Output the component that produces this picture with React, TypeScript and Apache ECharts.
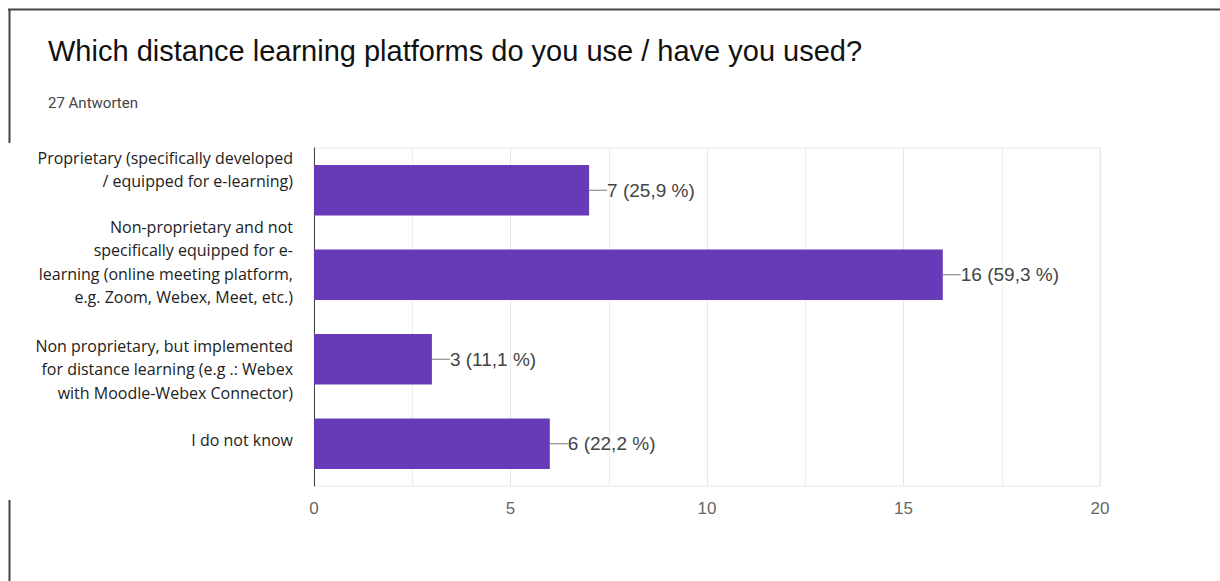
import React, { useEffect, useRef } from "react";
import * as echarts from "echarts";

const TITLE = "Which distance learning platforms do you use / have you used?";
const SUBTITLE = "27 Antworten";
const categories = [
  "Proprietary (specifically developed\n/ equipped for e-learning)",
  "Non-proprietary and not\nspecifically equipped for e-\nlearning (online meeting platform,\ne.g. Zoom, Webex, Meet, etc.)",
  "Non proprietary, but implemented\nfor distance learning (e.g .: Webex\nwith Moodle-Webex Connector)",
  "I do not know",
];
const counts = [7, 16, 3, 6];
const percents = ["25,9 %", "59,3 %", "11,1 %", "22,2 %"];
const xTicks = [0, 5, 10, 15, 20];

// vertical nudge of each category label (layout only)
const labelShift = [-21, -13, 10, -4];

export default function App() {
  const ref = useRef<HTMLDivElement>(null);
  useEffect(() => {
    if (!ref.current) return;
    const chart = echarts.init(ref.current, null, { renderer: "svg" });
    const rich: Record<string, any> = {};
    labelShift.forEach((s, i) => {
      const h = Math.max(1, 2 * Math.abs(s));
      rich["sp" + i] = { height: h, lineHeight: h, width: 1 };
    });
    chart.setOption({
      animation: false,
      backgroundColor: "#ffffff",
      title: [
        {
          text: TITLE,
          left: 43,
          top: 31,
          textStyle: { fontFamily: "Liberation Sans, Arial", fontSize: 29, fontWeight: "normal", color: "#111" },
        },
        {
          text: SUBTITLE,
          left: 43,
          top: 90,
          textStyle: { fontFamily: "Roboto, Liberation Sans", fontSize: 15, fontWeight: "normal", color: "#444" },
        },
      ],
      graphic: [
        { type: "line", shape: { x1: 8, y1: 9.5, x2: 1220, y2: 9.5 }, style: { stroke: "#444", lineWidth: 2 } },
        { type: "line", shape: { x1: 9.5, y1: 9, x2: 9.5, y2: 143 }, style: { stroke: "#444", lineWidth: 2 } },
        { type: "line", shape: { x1: 9.5, y1: 500, x2: 9.5, y2: 581 }, style: { stroke: "#444", lineWidth: 2 } },
      ],
      grid: {
        left: 314,
        right: 120,
        top: 148,
        bottom: 95,
        show: true,
        borderColor: "#e6e6e6",
        borderWidth: 1,
      },
      xAxis: {
        type: "value",
        min: xTicks[0],
        max: xTicks[xTicks.length - 1],
        interval: 5,
        axisLine: { show: false },
        axisTick: { show: false },
        splitLine: { show: true, lineStyle: { color: "#e6e6e6" } },
        minorTick: { show: false, splitNumber: 2 },
        minorSplitLine: { show: true, lineStyle: { color: "#ececec" } },
        axisLabel: {
          margin: 14,
          fontFamily: "Liberation Sans, Arial",
          fontSize: 17,
          color: "#666",
        },
      },
      yAxis: {
        type: "category",
        data: categories,
        inverse: true,
        axisLine: { show: true, lineStyle: { color: "#444", width: 1 } },
        axisTick: { show: false },
        axisLabel: {
          interval: 0,
          margin: 21,
          fontFamily: "Open Sans, Noto Sans",
          fontSize: 16,
          lineHeight: 23.5,
          color: "#222",
          align: "right",
          formatter: (v: string, i: number) => {
            const s = labelShift[i];
            return s < 0 ? `${v}\n{sp${i}|}` : `{sp${i}|}\n${v}`;
          },
          rich,
        },
      },
      series: [
        {
          type: "bar",
          data: counts,
          barCategoryGap: "40%",
          itemStyle: { color: "#673ab7" },
          label: {
            show: true,
            position: "right",
            distance: 0,
            formatter: (p: any) => `{l|}{t|${counts[p.dataIndex]} (${percents[p.dataIndex]})}`,
            rich: {
              l: { width: 18, height: 1, backgroundColor: "#777" },
              t: { fontFamily: "Liberation Sans, Arial", fontSize: 19, color: "#444" },
            },
          },
        },
      ],
    });
    return () => chart.dispose();
  }, []);
  return (
    <div
      ref={ref}
      style={{ position: "absolute", left: 0, top: 0, width: 1220, height: 581 }}
    />
  );
}
